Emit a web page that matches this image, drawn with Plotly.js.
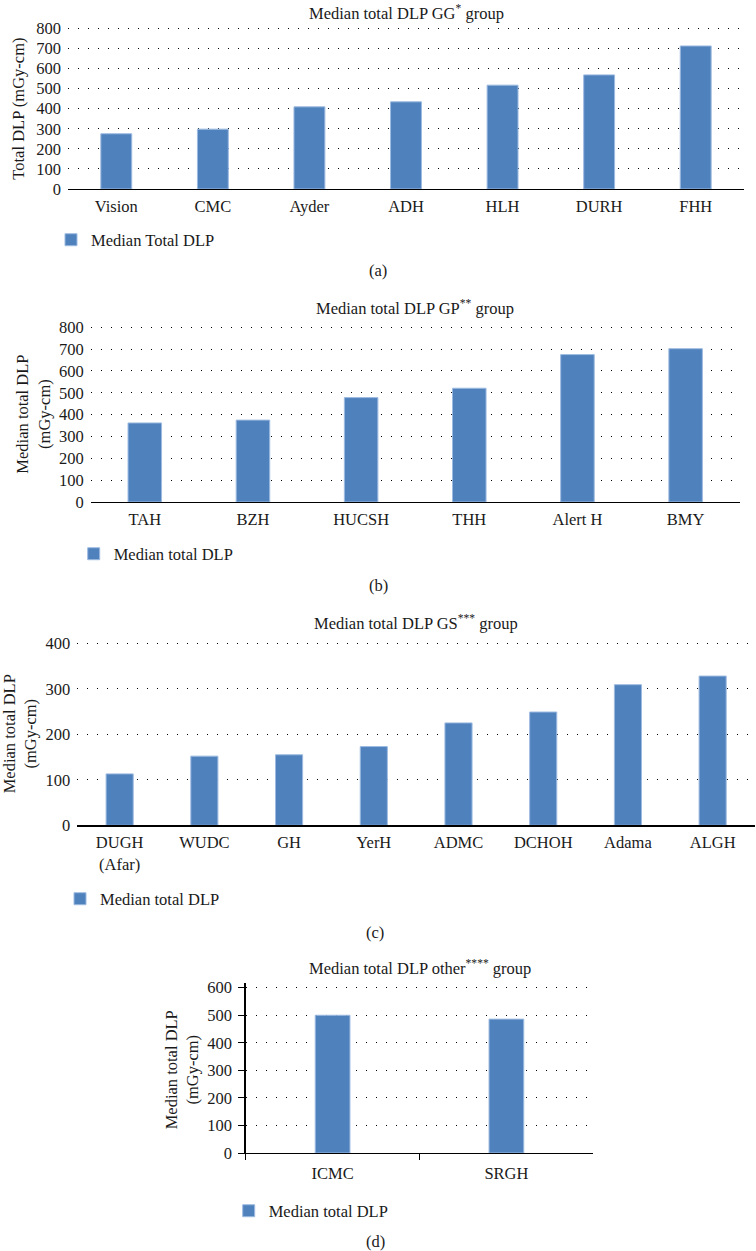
<!DOCTYPE html>
<html>
<head>
<meta charset="utf-8">
<script src="https://cdn.plot.ly/plotly-3.0.1.min.js"></script>
<style>html,body{margin:0;padding:0;background:#fff;}#chart{width:756px;height:1251px;}</style>
</head>
<body>
<div id="chart"></div>
<script>
// ---- data ----
const catsA = ["Vision", "CMC", "Ayder", "ADH", "HLH", "DURH", "FHH"];
const valsA = [275, 298, 409, 434, 517, 568, 712];
const catsB = ["TAH", "BZH", "HUCSH", "THH", "Alert H", "BMY"];
const valsB = [362, 375, 478, 521, 675, 702];
const catsC = ["DUGH<br>(Afar)", "WUDC", "GH", "YerH", "ADMC", "DCHOH", "Adama", "ALGH"];
const valsC = [113, 152, 155, 173, 225, 249, 309, 328];
const catsD = ["ICMC", "SRGH"];
const valsD = [500, 486];
const ticksA = [0, 100, 200, 300, 400, 500, 600, 700, 800];
const ticksC = [0, 100, 200, 300, 400];
const ticksD = [0, 100, 200, 300, 400, 500, 600];

const W = 756, H = 1251;
const px = v => v / W;
const py = v => 1 - v / H;
const FONT = "Liberation Serif, Times New Roman, serif";
const FS = 16.5;
const TXT = "#1a1a1a";
const BAR = "#4f81bd";
const EDGE = "#9dbbe0";
const PAD = 0.03; // headroom so the top gridline is kept

function bar(x, y, name, xa, ya, lg, w) {
  return {type: "bar", x: x, y: y, name: name, xaxis: xa, yaxis: ya, legend: lg,
    width: w, marker: {color: BAR, line: {color: EDGE, width: 1}}, showlegend: true, hoverinfo: "x+y"};
}

const traces = [
  bar(catsA, valsA, "Median Total DLP", "x", "y", "legend", 0.32),
  bar(catsB, valsB, "Median total DLP", "x2", "y2", "legend2", 0.31),
  bar(catsC, valsC, "Median total DLP", "x3", "y3", "legend3", 0.32),
  bar(catsD, valsD, "Median total DLP", "x4", "y4", "legend4", 0.2)
];

function xax(l, r, anchor, extra) {
  return Object.assign({domain: [px(l), px(r)], anchor: anchor, showgrid: false, zeroline: false,
    showline: true, linecolor: "#000", linewidth: 1.3, ticks: "", ticklabelstandoff: 2,
    tickfont: {family: FONT, size: FS, color: TXT}, fixedrange: true}, extra || {});
}
function yax(t, b, anchor, top, tv, extra) {
  const tt = t - PAD * (b - t);
  return Object.assign({domain: [py(b), py(tt)], anchor: anchor, range: [0, top * (1 + PAD)], tickvals: tv,
    ticktext: tv.map(String), showgrid: true, gridcolor: "#000", gridwidth: 1, griddash: "1px,9px",
    zeroline: false, showline: false, ticks: "", ticklabelstandoff: 6,
    tickfont: {family: FONT, size: FS, color: TXT}, fixedrange: true}, extra || {});
}

// plot boxes in pixels
const A = {l: 68, r: 744, t: 28.3, b: 189};
const B = {l: 90.7, r: 739.7, t: 327.3, b: 502};
const C = {l: 77.3, r: 755, t: 643.3, b: 825.3};
const D = {l: 245.7, r: 593.3, t: 987.7, b: 1153};

function ann(text, x, y, extra) {
  return Object.assign({text: text, xref: "paper", yref: "paper", x: px(x), y: py(y),
    xanchor: "center", yanchor: "middle", showarrow: false,
    font: {family: FONT, size: FS, color: TXT}}, extra || {});
}

function leg(x, y) {
  return {x: px(x), y: py(y), xanchor: "left", yanchor: "middle", orientation: "h",
    bgcolor: "rgba(0,0,0,0)", borderwidth: 0, itemwidth: 30,
    font: {family: FONT, size: FS, color: TXT}};
}

const layout = {
  width: W, height: H, margin: {l: 0, r: 0, t: 0, b: 0}, paper_bgcolor: "#fff", plot_bgcolor: "#fff",
  font: {family: FONT, size: FS, color: TXT},
  xaxis: xax(A.l, A.r, "y"),
  yaxis: yax(A.t, A.b, "x", 800, ticksA),
  xaxis2: xax(B.l, B.r, "y2"),
  yaxis2: yax(B.t, B.b, "x2", 800, ticksA),
  xaxis3: xax(C.l, C.r, "y3"),
  yaxis3: yax(C.t, C.b, "x3", 400, ticksC),
  xaxis4: xax(D.l, D.r, "y4", {ticks: "outside", tickson: "boundaries", ticklen: 6, tickcolor: "#000", tickwidth: 1.3, ticklabelstandoff: 5}),
  yaxis4: yax(D.t, D.b, "x4", 600, ticksD, {showline: true, linecolor: "#000", linewidth: 1.3, ticks: "outside", ticklen: 6, tickcolor: "#000", tickwidth: 1, ticklabelstandoff: 3}),
  legend: leg(51, 240),
  legend2: leg(73.7, 554),
  legend3: leg(60, 899),
  legend4: leg(228.7, 1211),
  annotations: [
    ann("Median total DLP GG<sup>*</sup> group", (A.l + A.r) / 2, 0, {yanchor: "top"}),
    ann("Median total DLP GP<sup>**</sup> group", (B.l + B.r) / 2, 308),
    ann("Median total DLP GS<sup>***</sup> group", (C.l + C.r) / 2, 623),
    ann("Median total DLP other<sup>****</sup> group", (D.l + D.r) / 2, 967),
    ann("Total DLP (mGy-cm)", 19, (A.t + A.b) / 2, {textangle: -90}),
    ann("Median total DLP<br>(mGy-cm)", 33, (B.t + B.b) / 2, {textangle: -90}),
    ann("Median total DLP<br>(mGy-cm)", 20, (C.t + C.b) / 2, {textangle: -90}),
    ann("Median total DLP<br>(mGy-cm)", 182, (D.t + D.b) / 2, {textangle: -90}),
    ann("(a)", 378, 270),
    ann("(b)", 378, 585),
    ann("(c)", 375, 932),
    ann("(d)", 375, 1241)
  ]
};

Plotly.newPlot("chart", traces, layout, {displayModeBar: false, staticPlot: true});
</script>
</body>
</html>
